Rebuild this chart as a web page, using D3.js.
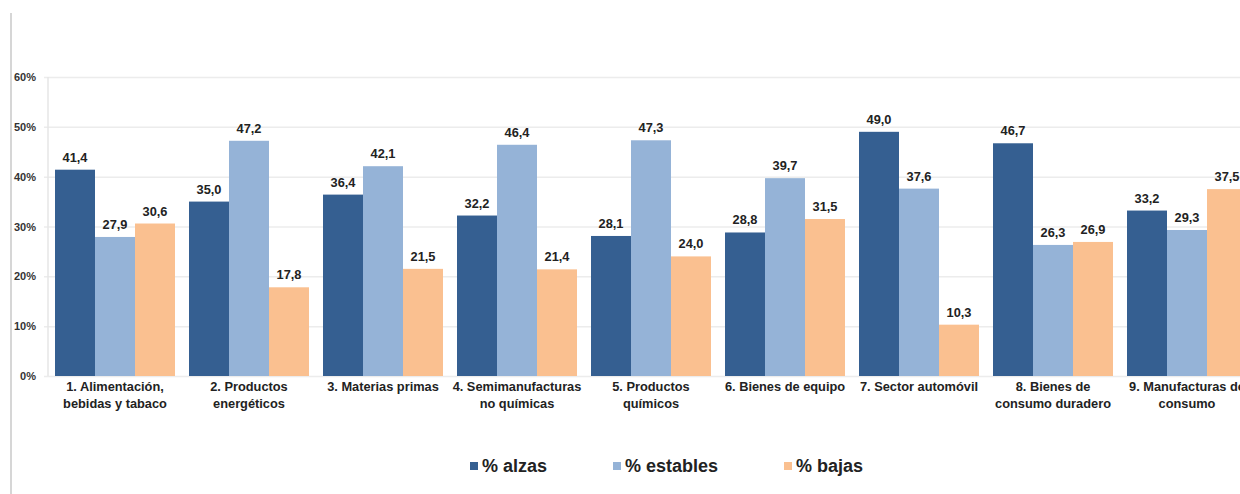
<!DOCTYPE html>
<html><head><meta charset="utf-8">
<script src="https://cdn.jsdelivr.net/npm/d3@7"></script>
<style>body{margin:0;background:#fff}svg{display:block;font-family:"Liberation Sans",Arial,sans-serif}</style>
</head><body><svg id="c" width="1240" height="494"></svg>
<script>
const categories = [["1. Alimentación,","bebidas y tabaco"],["2. Productos","energéticos"],["3. Materias primas"],["4. Semimanufacturas","no químicas"],["5. Productos","químicos"],["6. Bienes de equipo"],["7. Sector automóvil"],["8. Bienes de","consumo duradero"],["9. Manufacturas de","consumo"]];
const seriesNames = ["% alzas","% estables","% bajas"];
const alzas = [41.4,35.0,36.4,32.2,28.1,28.8,49.0,46.7,33.2];
const estables = [27.9,47.2,42.1,46.4,47.3,39.7,37.6,26.3,29.3];
const bajas = [30.6,17.8,21.5,21.4,24.0,31.5,10.3,26.9,37.5];
const yTicks = [0,10,20,30,40,50,60];
const colors = ["#355f91","#95b3d7","#fac090"];
const series = [alzas, estables, bajas];

const svg = d3.select("#c");
const x0 = d3.scaleBand().domain(d3.range(categories.length)).range([48, 48+9*134]).paddingInner(14/134).paddingOuter(7/134);
const x1 = d3.scaleBand().domain(d3.range(3)).range([0, x0.bandwidth()]);
const y = d3.scaleLinear().domain([0,60]).range([376,77]);

svg.append("line").attr("x1",11).attr("x2",11).attr("y1",13).attr("y2",494).attr("stroke","#c8c8c8").attr("stroke-width",1.5);

const yAxis = svg.append("g").attr("transform","translate(44,0)").call(d3.axisLeft(y).tickValues(yTicks).tickSize(-1240).tickFormat(d=>d+"%"));
yAxis.select(".domain").remove();
yAxis.selectAll(".tick line").attr("stroke","#ececec").attr("stroke-width",1.5);
yAxis.selectAll(".tick text").attr("x",-8).attr("font-size",11).attr("font-weight","bold").attr("fill","#333").attr("font-family","Liberation Sans, Arial, sans-serif");
svg.append("line").attr("x1",48).attr("x2",48).attr("y1",y(60)).attr("y2",y(0)).attr("stroke","#e6e6e6").attr("stroke-width",1.5);

const g = svg.append("g");
categories.forEach((c,i)=>{
  series.forEach((s,j)=>{
    const xx = x0(i)+x1(j);
    g.append("rect").attr("x",xx).attr("width",x1.bandwidth()).attr("y",y(s[i])).attr("height",y(0)-y(s[i])).attr("fill",colors[j]);
    g.append("text").attr("x",xx+x1.bandwidth()/2).attr("y",y(s[i])-8).attr("text-anchor","middle").attr("font-size",12.8).attr("font-weight","bold").attr("fill","#222").text(s[i].toFixed(1).replace(".",","));
  });
  const t = g.append("text").attr("x",x0(i)+x0.bandwidth()/2).attr("text-anchor","middle").attr("font-size",12.8).attr("font-weight","bold").attr("fill","#222");
  c.forEach((line,k)=>t.append("tspan").attr("x",x0(i)+x0.bandwidth()/2).attr("y",391+k*16.5).text(line));
});

const legX = [470,613,784];
const leg = svg.append("g");
seriesNames.forEach((n,j)=>{
  leg.append("rect").attr("x",legX[j]).attr("y",462).attr("width",8).attr("height",8).attr("fill",colors[j]);
  leg.append("text").attr("x",legX[j]+12).attr("y",472).attr("font-size",18).attr("font-weight","bold").attr("fill","#222").text(n);
});
</script></body></html>
